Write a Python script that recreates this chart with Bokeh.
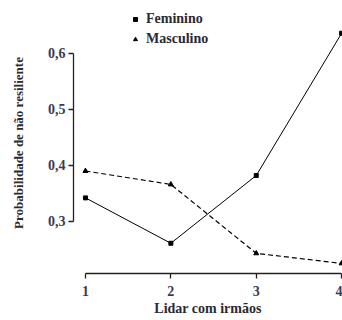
from bokeh.plotting import figure
from bokeh.models import Range1d, FixedTicker, Legend, LegendItem
from bokeh.embed import file_html
from bokeh.resources import INLINE

x_vals = [1, 2, 3, 4]
feminino = [0.342, 0.261, 0.382, 0.636]
masculino = [0.390, 0.366, 0.243, 0.225]
y_ticks = [0.3, 0.4, 0.5, 0.6]
y_tick_labels = ["0,3", "0,4", "0,5", "0,6"]
x_ticks = [1, 2, 3, 4]

FONT = "Liberation Serif"

p = figure(width=342, height=320, output_backend="svg", toolbar_location=None,
           x_range=Range1d(0.86, 4.01), y_range=Range1d(0.207, 0.673),
           min_border_left=73, min_border_right=0, min_border_top=12, min_border_bottom=47)
p.outline_line_color = None
p.xgrid.grid_line_color = None
p.ygrid.grid_line_color = None

p.line(x_vals, feminino, line_color="black", line_width=1)
p.line(x_vals, masculino, line_color="black", line_width=1.2, line_dash="5 3")
rf = p.scatter(x_vals, feminino, marker="square", size=4, color="black")
rm = p.scatter(x_vals, masculino, marker="triangle", size=5, color="black")

legend = Legend(items=[LegendItem(label="Feminino", renderers=[rf]),
                       LegendItem(label="Masculino", renderers=[rm])],
                location=(57, 224))
legend.background_fill_alpha = 0
legend.border_line_color = None
legend.padding = 0
legend.spacing = 0
legend.margin = 0
legend.glyph_width = 10
legend.glyph_height = 20
legend.label_standoff = 6
legend.label_text_font = FONT
legend.label_text_font_size = "14px"
legend.label_text_font_style = "bold"
legend.label_text_color = "#2a2a33"
p.add_layout(legend, "center")

p.yaxis.bounds = (0.3, 0.6)
p.yaxis.ticker = FixedTicker(ticks=y_ticks)
p.yaxis.major_label_overrides = {t: l for t, l in zip(y_ticks, y_tick_labels)}
p.xaxis.bounds = (1, 4)
p.xaxis.ticker = FixedTicker(ticks=x_ticks)

for ax in (p.xaxis[0], p.yaxis[0]):
    ax.axis_line_color = "#222222"
    ax.axis_line_width = 1.3
    ax.major_tick_line_color = "#222222"
    ax.major_tick_line_width = 1.3
    ax.major_tick_out = 5
    ax.major_tick_in = 0
    ax.minor_tick_line_color = None
    ax.major_label_text_font = FONT
    ax.major_label_text_font_size = "14px"
    ax.major_label_text_font_style = "bold"
    ax.major_label_text_color = "#3a3a55"
    ax.axis_label_text_font = FONT
    ax.axis_label_text_font_size = "14px"
    ax.axis_label_text_font_style = "bold"
    ax.axis_label_text_color = "#2a2a33"

p.yaxis.major_label_standoff = 3
p.xaxis.major_label_standoff = 7
p.xaxis.axis_label = "Lidar com irmãos"
p.yaxis.axis_label = "Probabilidade de não resiliente"
p.yaxis.axis_label_text_font_size = "13px"
p.xaxis.axis_label_standoff = 2
p.yaxis.axis_label_standoff = 19

open("out.html", "w").write(file_html(p, INLINE))
